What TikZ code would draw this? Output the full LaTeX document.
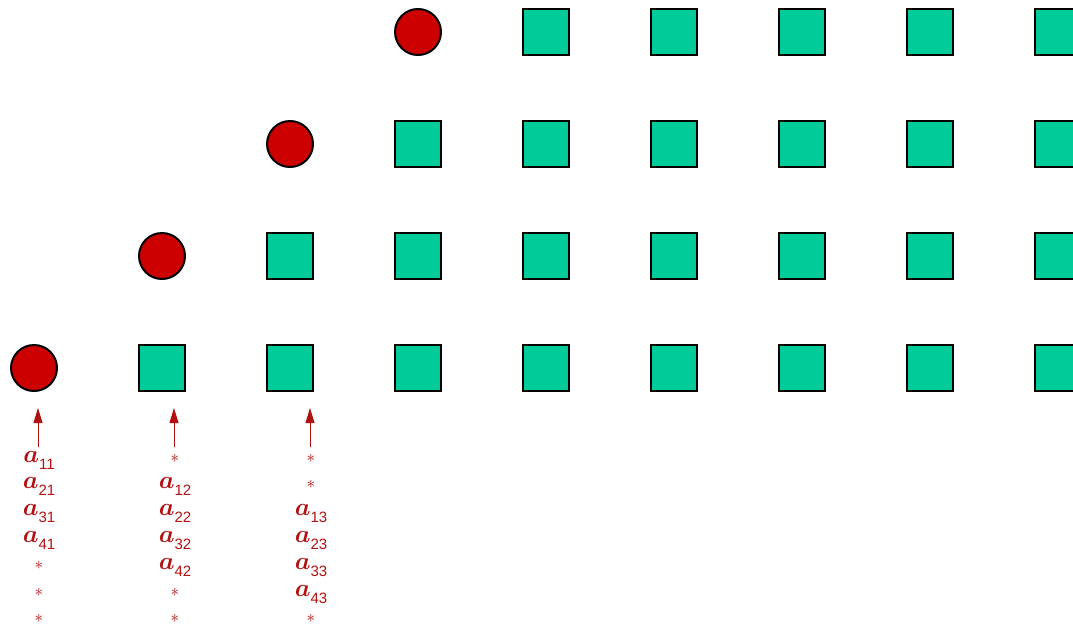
\documentclass[tikz,border=0pt]{standalone}
\usepackage{amsmath}
\usepackage{fontspec}
\setmainfont{Liberation Serif}
\setsansfont{Liberation Sans}
\usetikzlibrary{arrows.meta}
\definecolor{cred}{RGB}{204,0,0}
\definecolor{cgreen}{RGB}{0,204,153}
\definecolor{tred}{RGB}{178,17,17}
\tikzset{
  cell/.style={draw=black, line width=2pt, fill=cgreen, rectangle, minimum size=46pt, inner sep=0pt},
  pe/.style={draw=black, line width=2pt, fill=cred, circle, minimum size=46pt, inner sep=0pt},
  lab/.style={text=tred, font=\fontsize{25}{27}\selectfont, inner sep=0pt, anchor=base},
  feed/.style={draw=tred, line width=1pt, -{Triangle[length=15pt,width=9pt]}}
}
\newcommand{\av}[1]{$\boldsymbol{a}$\raisebox{-7pt}{\fontsize{15}{15}\sffamily #1}}
\newcommand{\st}{{\fontsize{19}{19}\selectfont$\ast$}}
\begin{document}
\begin{tikzpicture}[x=1pt,y=-1pt]
\useasboundingbox (0,0) rectangle (1073,624);
\clip (0,0) rectangle (1073,624);
\foreach \r in {0,...,3}{
  \pgfmathtruncatemacro\cz{3-\r}
  \pgfmathtruncatemacro\cs{4-\r}
  \node[pe] (p-\r-\cz) at ({34+128*\cz},{32+112*\r}) {};
  \foreach \c in {\cs,...,8}
    \node[cell] (p-\r-\c) at ({34+128*\c},{32+112*\r}) {};
}
% label columns
\foreach \j/\x/\lines in {1/39/{\av{11},\av{21},\av{31},\av{41},\st,\st,\st},
                          2/175/{\st,\av{12},\av{22},\av{32},\av{42},\st,\st},
                          3/311/{\st,\st,\av{13},\av{23},\av{33},\av{43},\st}}{
  \foreach \t [count=\k] in \lines
    \node[lab] (l-\j-\k) at (\x,{462+26.8*(\k-1)}) {\t};
  \coordinate (tail-\j) at (\x-1,447);
  \coordinate (tip-\j) at (\x-1,408);
  \draw[feed] (tail-\j) -- (tip-\j);
}
\end{tikzpicture}
\end{document}
